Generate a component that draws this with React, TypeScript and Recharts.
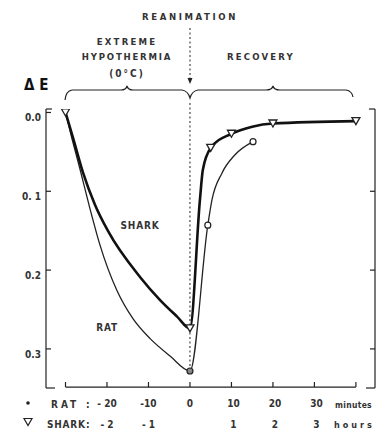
import React from 'react';
import { ComposedChart, Line, Scatter, XAxis, YAxis, ReferenceLine, Customized } from 'recharts';

// x: time on the rat scale (minutes); 10 min on the rat scale = 1 h on the shark scale
const sharkCurve = [
  { t: -30, e: 0 },
  { t: -28.2, e: 0.032 },
  { t: -25.8, e: 0.076 },
  { t: -22.9, e: 0.117 },
  { t: -19.8, e: 0.15 },
  { t: -12, e: 0.209 },
  { t: -7.2, e: 0.238 },
  { t: -3.1, e: 0.259 },
  { t: 0, e: 0.274 },
  { t: 2.4, e: 0.111 },
  { t: 3.1, e: 0.073 },
  { t: 5, e: 0.045 },
  { t: 10, e: 0.027 },
  { t: 15, e: 0.018 },
  { t: 20, e: 0.014 },
  { t: 40, e: 0.011 },
];

const ratCurve = [
  { t: -30, e: 0 },
  { t: -28.4, e: 0.034 },
  { t: -26.5, e: 0.072 },
  { t: -24.2, e: 0.12 },
  { t: -21.7, e: 0.168 },
  { t: -17.6, e: 0.226 },
  { t: -13.7, e: 0.262 },
  { t: -9.6, e: 0.287 },
  { t: -4.8, e: 0.309 },
  { t: 0, e: 0.328 },
  { t: 4.3, e: 0.143 },
  { t: 5.3, e: 0.111 },
  { t: 7.7, e: 0.077 },
  { t: 10.8, e: 0.054 },
  { t: 15.2, e: 0.037 },
];

const sharkMarks = [
  { t: -30, e: 0 },
  { t: 0, e: 0.274 },
  { t: 5, e: 0.045 },
  { t: 10, e: 0.027 },
  { t: 20, e: 0.014 },
  { t: 40, e: 0.011 },
];

const ratMarks = [
  { t: 0, e: 0.328, filled: true },
  { t: 4.3, e: 0.143, filled: false },
  { t: 15.2, e: 0.037, filled: false },
];

const xTicks = [-30, -20, -10, 0, 10, 20, 30, 40];
const ratTickLabels: Record<number, string> = { [-20]: '- 20', [-10]: '-10', 0: '0', 10: '10', 20: '20', 30: '30' };
const sharkTickLabels: Record<number, string> = { [-20]: '- 2', [-10]: '- 1', 10: '1', 20: '2', 30: '3' };
const yTicks = [0, 0.1, 0.2, 0.3];
const yTickLabels = ['0.0', '0. 1', '0.2', '0.3'];

const INK = '#222';
const FONT = '"DejaVu Sans Condensed", "DejaVu Sans", sans-serif';

const YTickLeft = (props: any) => {
  const { x, y, payload } = props;
  return (
    <g>
      <line x1={x} y1={y} x2={x + 5} y2={y} stroke={INK} strokeWidth={1.2} />
      <text x={x - 5} y={y + 9} textAnchor="end" fontFamily={FONT} fontWeight="bold" fontSize={10} fill="#333">
        {yTickLabels[yTicks.indexOf(payload.value)] ?? ''}
      </text>
    </g>
  );
};

const YTickRight = (props: any) => {
  const { x, y, payload } = props;
  if (payload.value === 0) return <g />;
  return <line x1={x} y1={y} x2={x - 5} y2={y} stroke={INK} strokeWidth={1.2} />;
};

const XTick = (props: any) => {
  const { x, y, payload } = props;
  const v = payload.value;
  const dx = v > 0 ? 2 : 0;
  return (
    <g>
      <line x1={x} y1={y - 1} x2={x} y2={y - 6} stroke={INK} strokeWidth={1.2} />
      {ratTickLabels[v] !== undefined && (
        <text x={x + dx} y={y + 19} textAnchor="middle" fontFamily={FONT} fontWeight="bold" fontSize={10} fill="#333">
          {ratTickLabels[v]}
        </text>
      )}
      {sharkTickLabels[v] !== undefined && (
        <text x={x + dx} y={y + 40} textAnchor="middle" fontFamily={FONT} fontWeight="bold" fontSize={10} fill="#333">
          {sharkTickLabels[v]}
        </text>
      )}
    </g>
  );
};

const Triangle = (props: any) => {
  const { cx, cy } = props;
  return (
    <polygon
      points={`${cx - 4},${cy - 3.5} ${cx + 4},${cy - 3.5} ${cx},${cy + 3.5}`}
      fill="#fff"
      stroke={INK}
      strokeWidth={1.3}
    />
  );
};

const Circle = (props: any) => {
  const { cx, cy, payload } = props;
  return <circle cx={cx} cy={cy} r={3} fill={payload && payload.filled ? '#888' : '#fff'} stroke={INK} strokeWidth={1.2} />;
};

const head = { fontFamily: FONT, fontWeight: 'bold' as const, fill: '#333' };

const Annotations = () => (
  <g>
    <text x={190} y={20} textAnchor="middle" fontSize={9.5} letterSpacing={2.6} {...head}>REANIMATION</text>
    <text x={127} y={45} textAnchor="middle" fontSize={9.5} letterSpacing={2.2} {...head}>EXTREME</text>
    <text x={127} y={60} textAnchor="middle" fontSize={9.5} letterSpacing={1.8} {...head}>HYPOTHERMIA</text>
    <text x={127} y={77} textAnchor="middle" fontSize={10} letterSpacing={2} {...head}>(0°C)</text>
    <text x={261} y={60} textAnchor="middle" fontSize={9.5} letterSpacing={2.2} {...head}>RECOVERY</text>
    <text x={24} y={90} fontSize={15} {...head} fill="#111">Δ E</text>
    <line x1={190} y1={28} x2={190} y2={79} stroke={INK} strokeWidth={1} strokeDasharray="2 2.5" />
    <polygon points="187.5,78 192.5,78 190,84" fill={INK} />
    <path
      d="M65,100 Q66,91 72,90 L121,90 Q126,90 127,86 Q128,90 133,90 L182,90 Q188,91 190,98 Q192,91 198,90 L266,90 Q272,90 273,86 Q274,90 280,90 L346,90 Q352,91 353,97"
      fill="none"
      stroke={INK}
      strokeWidth={1.2}
    />
    {/* frame corners */}
    <line x1={46} y1={109} x2={52} y2={109} stroke={INK} strokeWidth={1.2} />
    <line x1={46} y1={388} x2={55} y2={388} stroke={INK} strokeWidth={1.2} />
    <line x1={369} y1={109} x2={375} y2={109} stroke={INK} strokeWidth={1.2} />
    <line x1={366} y1={388} x2={375} y2={388} stroke={INK} strokeWidth={1.2} />
    {/* curve labels */}
    <text x={140} y={229} textAnchor="middle" fontSize={10} letterSpacing={0.8} {...head}>SHARK</text>
    <text x={107} y={331} textAnchor="middle" fontSize={10} letterSpacing={0.8} {...head}>RAT</text>
    {/* bottom legend rows */}
    <circle cx={28} cy={403} r={1.8} fill={INK} />
    <text x={51} y={408} fontSize={10} letterSpacing={3} {...head}>RAT</text>
    <text x={86} y={408} fontSize={10} {...head}>:</text>
    <text x={335} y={408} fontSize={8.5} letterSpacing={0.3} {...head}>minutes</text>
    <polygon points="24,418.5 32,418.5 28,425.5" fill="#fff" stroke={INK} strokeWidth={1.2} />
    <text x={47} y={428} fontSize={10} letterSpacing={0.8} {...head}>SHARK</text>
    <text x={86} y={428} fontSize={10} {...head}>:</text>
    <text x={334} y={428} fontSize={9} letterSpacing={3} {...head}>hours</text>
  </g>
);

export default function App() {
  return (
    <div style={{ position: 'absolute', left: 0, top: 0, background: '#fff' }}>
      <ComposedChart width={379} height={431} margin={{ top: 109, right: 0, bottom: 0, left: 0 }}>
        <XAxis
          type="number"
          dataKey="t"
          domain={[-34.7, 44.6]}
          ticks={xTicks}
          interval={0}
          allowDataOverflow
          height={43}
          axisLine={false}
          tickLine={false}
          tickSize={0}
          tickMargin={0}
          tick={XTick}
        />
        <YAxis
          yAxisId="left"
          type="number"
          reversed
          domain={[-0.0044, 0.3496]}
          ticks={yTicks}
          interval={0}
          allowDataOverflow
          width={46}
          axisLine={{ stroke: INK, strokeWidth: 1.2 }}
          tickLine={false}
          tickSize={0}
          tickMargin={0}
          tick={YTickLeft}
        />
        <YAxis
          yAxisId="right"
          orientation="right"
          type="number"
          reversed
          domain={[-0.0044, 0.3496]}
          ticks={yTicks}
          interval={0}
          allowDataOverflow
          width={4}
          axisLine={{ stroke: INK, strokeWidth: 1.2 }}
          tickLine={false}
          tickSize={0}
          tickMargin={0}
          tick={YTickRight}
        />
        <ReferenceLine
          yAxisId="left"
          segment={[{ x: -30, y: 0.3484 }, { x: 40, y: 0.3484 }]}
          stroke={INK}
          strokeWidth={1.2}
          ifOverflow="visible"
        />
        <ReferenceLine
          yAxisId="left"
          segment={[{ x: 0, y: -0.012 }, { x: 0, y: 0.328 }]}
          stroke={INK}
          strokeWidth={1}
          strokeDasharray="2 2.5"
          ifOverflow="visible"
        />
        <Line
          yAxisId="left"
          data={ratCurve}
          dataKey="e"
          type="monotone"
          dot={false}
          stroke={INK}
          strokeWidth={1.3}
          isAnimationActive={false}
        />
        <Line
          yAxisId="left"
          data={sharkCurve}
          dataKey="e"
          type="monotone"
          dot={false}
          stroke="#111"
          strokeWidth={2.6}
          isAnimationActive={false}
        />
        <Scatter yAxisId="left" data={ratMarks} dataKey="e" shape={Circle} isAnimationActive={false} />
        <Scatter yAxisId="left" data={sharkMarks} dataKey="e" shape={Triangle} isAnimationActive={false} />
        <Customized component={Annotations} />
      </ComposedChart>
    </div>
  );
}
